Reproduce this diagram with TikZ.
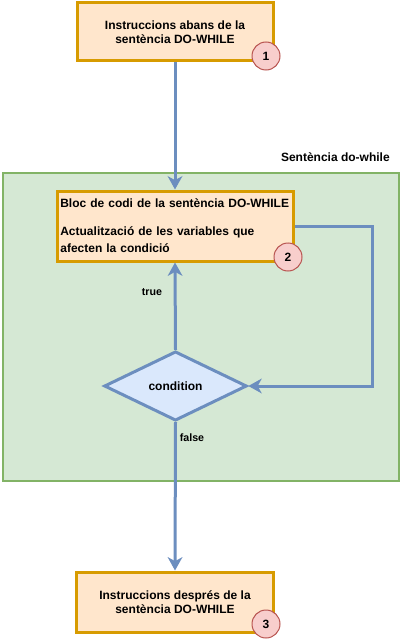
\documentclass[tikz,border=0pt]{standalone}
\usepackage{fontspec}
\setmainfont{Liberation Sans}
\usetikzlibrary{shapes.geometric,arrows.meta}
\definecolor{orfill}{HTML}{FFE6CC}
\definecolor{ordraw}{HTML}{D79B00}
\definecolor{grfill}{HTML}{D5E8D4}
\definecolor{grdraw}{HTML}{82B366}
\definecolor{blfill}{HTML}{DAE8FC}
\definecolor{bldraw}{HTML}{6C8EBF}
\definecolor{rdfill}{HTML}{F8CECC}
\definecolor{rddraw}{HTML}{B85450}
\tikzset{
  box/.style={draw=ordraw,fill=orfill,line width=2.25pt,align=center,font=\bfseries\fontsize{9}{10.5}\selectfont,inner sep=2pt},
  badge/.style={circle,draw=rddraw,fill=rdfill,line width=0.75pt,minimum size=21pt,inner sep=0pt,font=\bfseries\fontsize{9}{10}\selectfont},
  flow/.style={draw=bldraw,line width=2.25pt,-{Stealth[length=10pt,width=11pt,inset=3pt]}},
  lbl/.style={font=\bfseries\fontsize{8}{9}\selectfont,inner sep=0pt}
}
\begin{document}
\begin{tikzpicture}[x=0.75pt,y=-0.75pt]
\useasboundingbox (0,0) rectangle (402,642);
% container
\node[draw=grdraw,fill=grfill,line width=1.5pt,minimum width=297pt,minimum height=231pt,inner sep=0pt] (cont) at (201,326.5) {};
\node[lbl,font=\bfseries\fontsize{9}{10}\selectfont,anchor=east] (contlbl) at (390,157) {Sentència do-while};
% boxes
\node[box,minimum width=147pt,minimum height=43.5pt] (b1) at (175,32) {Instruccions abans de la\\sentència DO-WHILE};
\node[box,minimum width=177pt,minimum height=52.5pt,text width=172pt,align=left,font=\bfseries\fontsize{9}{12.75}\selectfont] (b2) at (175,226) {Bloc de codi de la sentència DO-WHILE\\[8.25pt]Actualització de les variables que\\afecten la condició};
\node[box,minimum width=147.75pt,minimum height=45pt] (b3) at (175,602) {Instruccions després de la\\sentència DO-WHILE};
\node[diamond,draw=bldraw,fill=blfill,line width=2.25pt,minimum width=107pt,minimum height=52pt,inner sep=0pt,aspect=2.07,font=\bfseries\fontsize{9}{10}\selectfont] (cond) at (175.5,386) {condition};
% badges
\node[badge] (n1) at (266,56) {1};
\node[badge] (n2) at (288,257) {2};
\node[badge] (n3) at (266,624) {3};
% connectors
\draw[flow] (b1.south) -- (b2.north);
\draw[flow] (cond.north) -- (b2.south);
\coordinate (loopc) at (372,300);
\draw[flow] (b2.east) -| (loopc) |- (cond.east);
\draw[flow] (cond.south) -- (b3.north);
% labels
\node[lbl] (tl) at (152,292) {true};
\node[lbl] (fl) at (192,438) {false};
\end{tikzpicture}
\end{document}
